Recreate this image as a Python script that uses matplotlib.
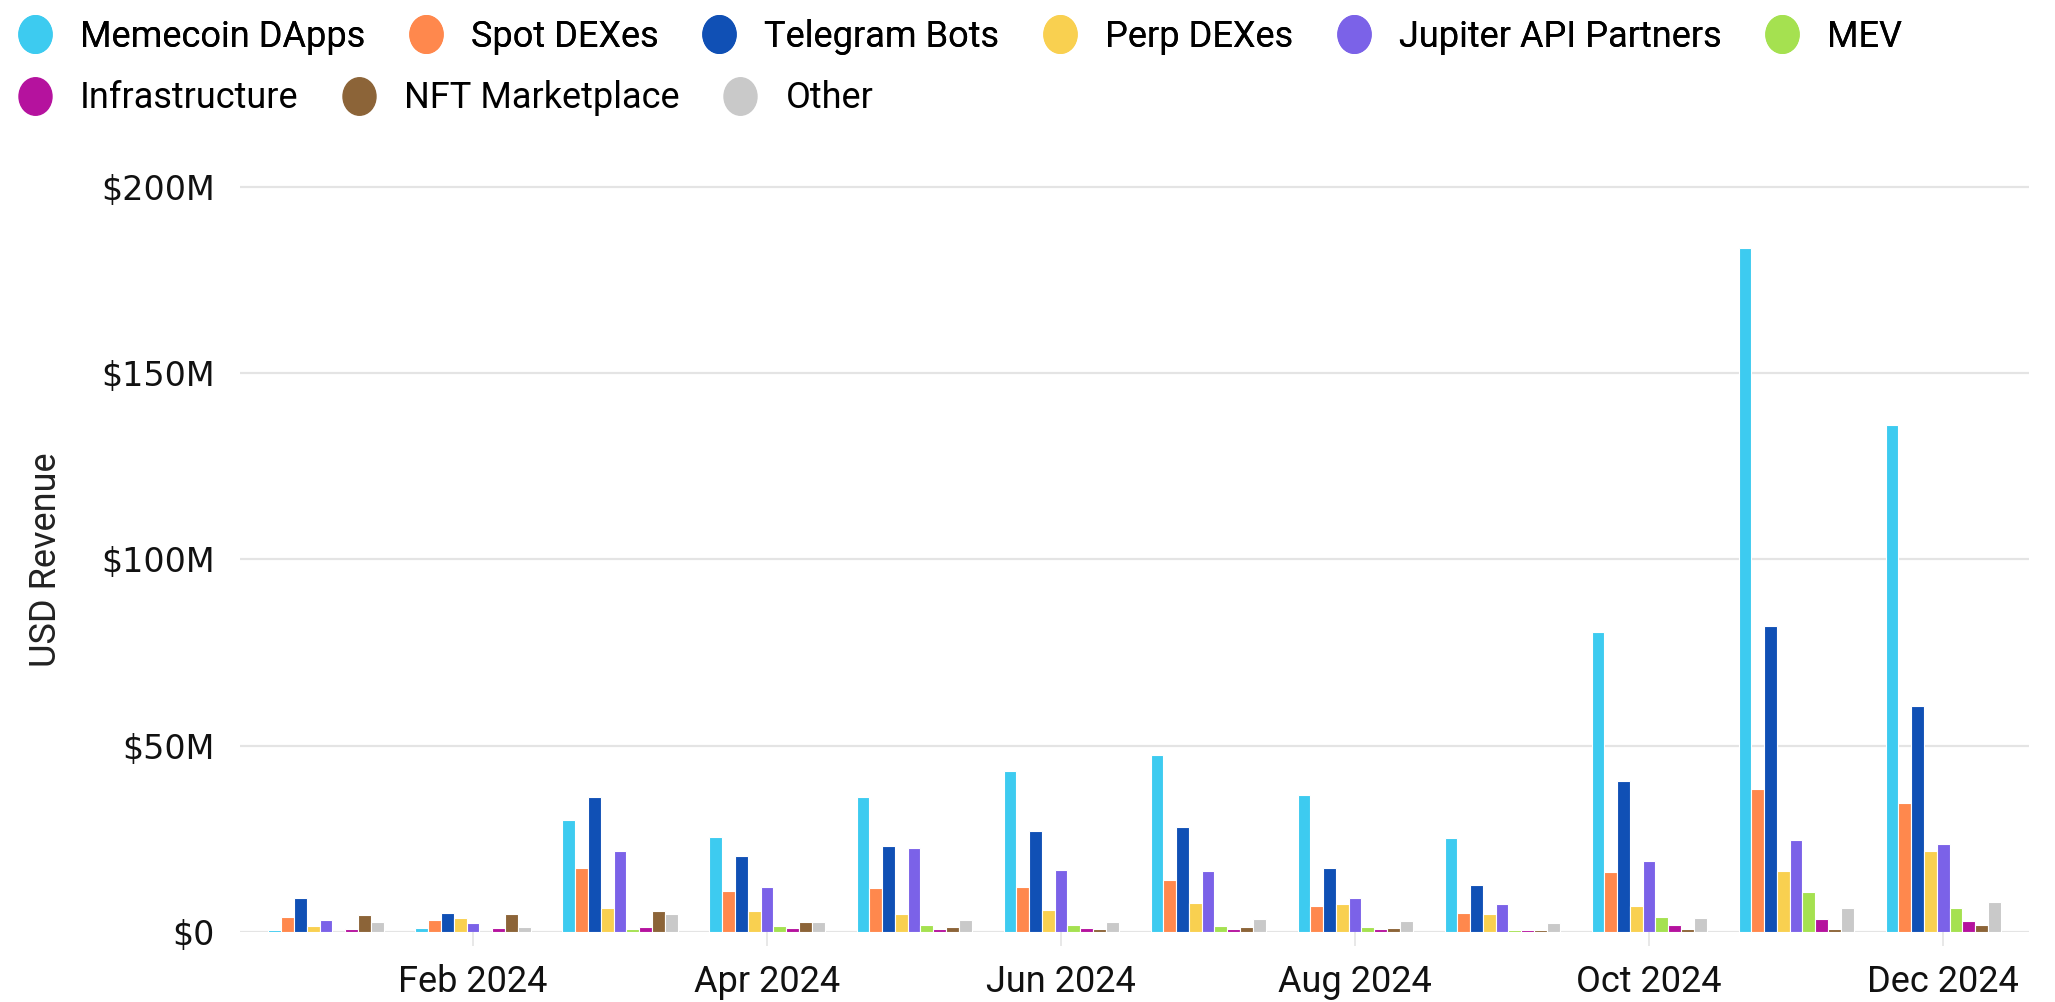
import numpy as np
import matplotlib
matplotlib.use('Agg')
import matplotlib.pyplot as plt
from matplotlib.lines import Line2D
from matplotlib.path import Path
from matplotlib.ticker import FuncFormatter

plt.rcParams['font.family'] = ['Roboto', 'DejaVu Sans']

months = ['Jan 2024', 'Feb 2024', 'Mar 2024', 'Apr 2024', 'May 2024', 'Jun 2024',
          'Jul 2024', 'Aug 2024', 'Sep 2024', 'Oct 2024', 'Nov 2024', 'Dec 2024']

# revenue in millions of USD
memecoin_dapps = [0.4, 1.0, 30.0, 25.5, 36.2, 43.3, 47.5, 36.7, 25.1, 80.5, 183.7, 136.0]
spot_dexes = [4.1, 3.3, 17.2, 10.9, 11.8, 12.1, 14.0, 6.9, 5.1, 16.2, 38.4, 34.7]
telegram_bots = [9.0, 5.2, 36.3, 20.4, 23.0, 27.0, 28.2, 17.1, 12.6, 40.5, 82.1, 60.7]
perp_dexes = [1.6, 3.8, 6.5, 5.7, 4.7, 5.9, 7.8, 7.4, 4.7, 7.0, 16.4, 21.6]
jupiter_api = [3.2, 2.3, 21.6, 12.1, 22.5, 16.7, 16.4, 9.2, 7.4, 19.1, 24.7, 23.6]
mev = [0.0, 0.0, 0.9, 1.6, 1.8, 1.8, 1.6, 1.4, 0.6, 4.0, 10.6, 6.5]
infrastructure = [0.8, 1.1, 1.2, 1.1, 0.9, 1.1, 0.8, 0.8, 0.4, 1.8, 3.4, 2.9]
nft_marketplace = [4.6, 4.8, 5.7, 2.8, 1.4, 0.8, 1.4, 1.0, 0.6, 0.8, 0.9, 1.9]
other = [2.6, 1.4, 4.8, 2.8, 3.2, 2.8, 3.6, 3.0, 2.5, 3.7, 6.5, 8.0]

series = [
    ('Memecoin DApps', memecoin_dapps, '#3DCBF0'),
    ('Spot DEXes', spot_dexes, '#FF884D'),
    ('Telegram Bots', telegram_bots, '#1050B5'),
    ('Perp DEXes', perp_dexes, '#F9D050'),
    ('Jupiter API Partners', jupiter_api, '#7B62E8'),
    ('MEV', mev, '#A5E150'),
    ('Infrastructure', infrastructure, '#B5129E'),
    ('NFT Marketplace', nft_marketplace, '#8C6438'),
    ('Other', other, '#C9C9C9'),
]

fig = plt.figure(figsize=(20.55, 10.02), dpi=100)
ax = fig.add_axes([0.1168, 0.0699, 0.8706, 0.751])

x = np.arange(len(months))
w = 0.087
for i, (name, vals, col) in enumerate(series):
    ax.bar(x + (i - 4) * w, np.array(vals) * 1e6, w, color=col,
           edgecolor='white', linewidth=0.8, zorder=3)

ax.set_xlim(-0.585, len(months) - 1 + 0.585)
ax.set_ylim(0, 202e6)
ax.set_yticks([0, 50e6, 100e6, 150e6, 200e6])
ax.yaxis.set_major_formatter(FuncFormatter(lambda v, p: '$0' if v == 0 else f'${v/1e6:.0f}M'))
ax.grid(axis='y', color='#E4E4E4', linewidth=1.6, zorder=0)
for s in ax.spines.values():
    s.set_visible(False)
ax.tick_params(axis='y', length=0, pad=18, labelsize=24, labelcolor='#111111')
for lab in ax.get_yticklabels():
    lab.set_fontfamily('DejaVu Sans')

ax.set_xticks(x[1::2])
ax.set_xticklabels(months[1::2])
ax.tick_params(axis='x', length=10, width=1.2, color='#E4E4E4', pad=13,
               labelsize=26, labelcolor='#111111')

fig.text(46 / 2055, 0.441, 'USD Revenue', rotation=90, ha='center', va='center',
         fontsize=26, color='#222222')

# slightly tall oval markers, like the reference legend
circ = Path.unit_circle()
oval = Path(circ.vertices * np.array([0.88, 1.0]), circ.codes)
handles = [Line2D([], [], marker=oval, linestyle='', markersize=27,
                  markerfacecolor=c, markeredgecolor=c) for _, _, c in series]
names = [n for n, _, _ in series]

leg_kw = dict(loc='center left', frameon=False, fontsize=26, handletextpad=0.75,
              columnspacing=1.18, borderaxespad=0.0, handlelength=1.0)
leg1 = fig.legend(handles[:6], names[:6], bbox_to_anchor=(0.001, 0.963), ncol=6, **leg_kw)
fig.add_artist(leg1)
fig.legend(handles[6:], names[6:], bbox_to_anchor=(0.001, 0.902), ncol=3, **leg_kw)

plt.savefig('out.png', dpi=100)
